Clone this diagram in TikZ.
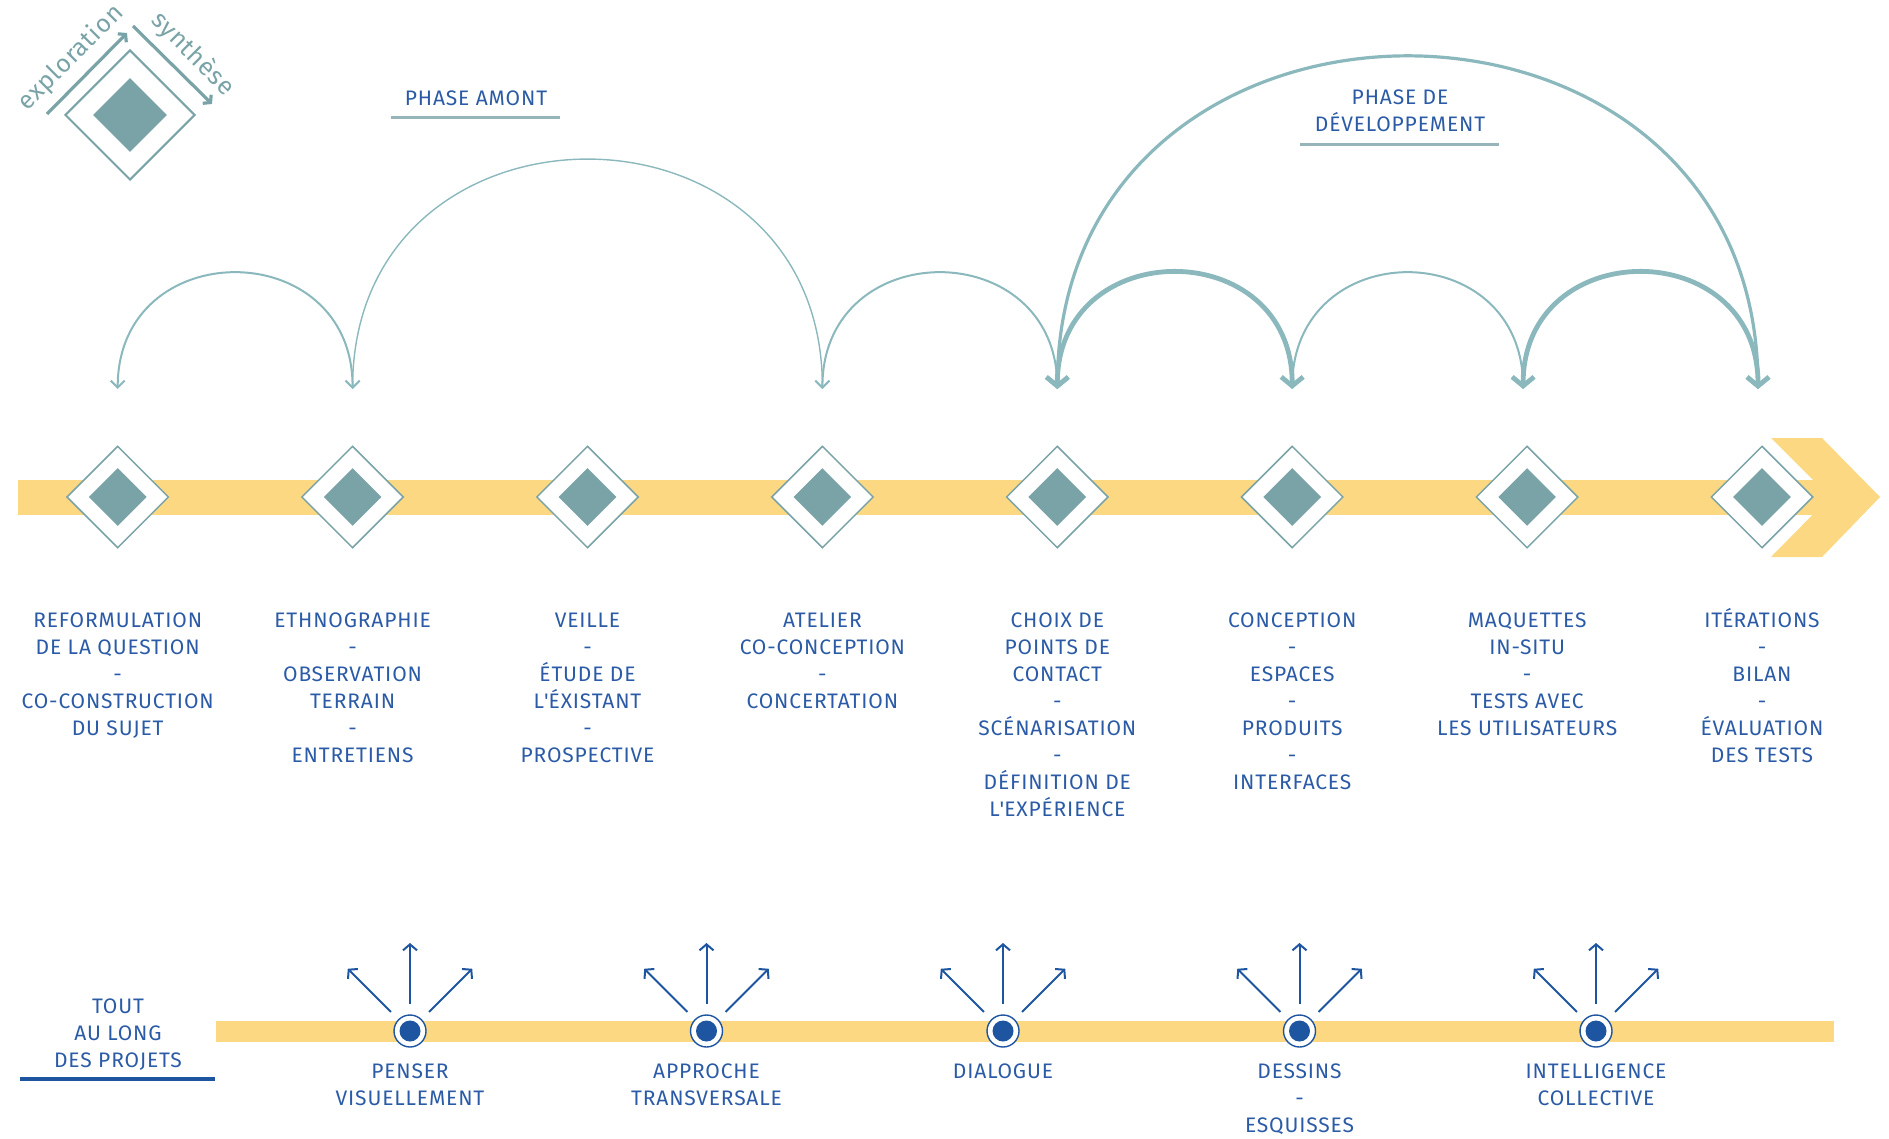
\documentclass[tikz,border=0pt]{standalone}
\usepackage{fontspec}
\setmainfont{Fira Sans}[LetterSpace=4]
\newfontfamily\legendfont{Fira Sans}[LetterSpace=3]
\usepackage{tikz}
\usetikzlibrary{arrows.meta,shapes.geometric,calc}

\definecolor{barjaune}{HTML}{FCD882}
\definecolor{sarcelle}{HTML}{7AA3A7}
\definecolor{arcteal}{HTML}{8AB8BC}
\definecolor{texteb}{HTML}{2B5BA6}
\definecolor{pucebleu}{HTML}{1E55A0}

\tikzset{
  etape/.style={diamond,aspect=1,draw=sarcelle,line width=0.75pt,fill=white,minimum size=51pt,inner sep=0pt},
  noyau/.style={diamond,aspect=1,fill=sarcelle,minimum size=29pt,inner sep=0pt},
  etiquette/.style={anchor=north,align=center,inner sep=0pt,text=texteb,
    font=\fontsize{10.5}{13.5}\selectfont},
  fin/.style={draw=arcteal,line width=1pt,{Straight Barb[length=3.5pt,width=7pt]}-{Straight Barb[length=3.5pt,width=7pt]}},
  epais/.style={draw=arcteal,line width=2.4pt,{Straight Barb[length=4.5pt,width=11pt]}-{Straight Barb[length=4.5pt,width=11pt]}},
  puce/.style={circle,draw=pucebleu,line width=0.7pt,fill=white,minimum size=16pt,inner sep=0pt},
  noyaupuce/.style={circle,fill=pucebleu,minimum size=10.5pt,inner sep=0pt},
  rayon/.style={draw=pucebleu,line width=1pt,-{Straight Barb[length=3pt,width=7pt]}},
  flecheleg/.style={draw=sarcelle,line width=1.6pt,-{Straight Barb[length=2.5pt,width=6pt]}},
  texteleg/.style={text=sarcelle,inner sep=0pt,font=\legendfont\fontsize{12.5}{14}\selectfont},
}

\begin{document}
\begin{tikzpicture}[x=0.5pt,y=0.5pt]
\useasboundingbox (0,0) rectangle (1889,-1139);

% legende
\node[diamond,aspect=1,draw=sarcelle,line width=1pt,minimum size=65pt,inner sep=0pt] (leg) at (130,-115) {};
\node[diamond,aspect=1,fill=sarcelle,minimum size=37pt,inner sep=0pt] at (leg) {};
\coordinate (e1) at (47,-114);
\coordinate (e2) at (127,-33);
\coordinate (s1) at (133,-26);
\coordinate (s2) at (212,-104);
\draw[flecheleg] (e1) -- (e2);
\draw[flecheleg] (s1) -- (s2);
\node[texteleg,rotate=45] (explo) at (71,-58) {exploration};
\node[texteleg,rotate=-45] (synth) at (193,-54) {synthèse};

% barre principale
\fill[barjaune] (18,-480) rectangle (1830,-515);
\fill[barjaune] (1771,-438) -- (1822,-438) -- (1880,-497) -- (1822,-557) -- (1771,-557) -- (1830,-497) -- cycle;

\foreach \i in {1,...,8} {
  \node[etape] (d\i) at ({117.7+234.9*(\i-1)},-497) {};
  \node[noyau] at (d\i) {};
}
\foreach \i in {1,...,6}
  \coordinate (t\i) at ($(d\i)+(0,108)$);
\coordinate (t7) at ($(d7)+(-4,108)$);
\coordinate (t8) at ($(d8)+(-4,108)$);

% arcs
\draw[fin] (t1) .. controls +(0,155) and +(0,155) .. (t2);
\draw[fin,line width=0.7pt] (t2) .. controls +(0,306) and +(0,306) .. (t4);
\draw[fin] (t4) .. controls +(0,155) and +(0,155) .. (t5);
\draw[fin] (t6) .. controls +(0,155) and +(0,155) .. (t7);
\draw[epais,line width=1.6pt] (t5) .. controls +(0,443) and +(0,443) .. (t8);
\draw[epais] (t5) .. controls +(0,155) and +(0,155) .. (t6);
\draw[epais] (t7) .. controls +(0,155) and +(0,155) .. (t8);

% phases
\node[etiquette] (amont) at (476,-90) {PHASE AMONT};
\draw[sarcelle!80!white,line width=1.5pt] (391,-118) -- (560,-118);
\node[etiquette] (dev) at (1400,-89) {PHASE DE\\DÉVELOPPEMENT};
\draw[sarcelle!80!white,line width=1.5pt] (1300,-145) -- (1499,-145);

% etapes
\node[etiquette] (l1) at ($(d1)+(0,-115.5)$) {REFORMULATION\\DE LA QUESTION\\-\\CO-CONSTRUCTION\\DU SUJET};
\node[etiquette] (l2) at ($(d2)+(0,-115.5)$) {ETHNOGRAPHIE\\-\\OBSERVATION\\TERRAIN\\-\\ENTRETIENS};
\node[etiquette] (l3) at ($(d3)+(0,-115.5)$) {VEILLE\\-\\ÉTUDE DE\\L\textquotesingle ÉXISTANT\\-\\PROSPECTIVE};
\node[etiquette] (l4) at ($(d4)+(0,-115.5)$) {ATELIER\\CO-CONCEPTION\\-\\CONCERTATION};
\node[etiquette] (l5) at ($(d5)+(0,-115.5)$) {CHOIX DE\\POINTS DE\\CONTACT\\-\\SCÉNARISATION\\-\\DÉFINITION DE\\L\textquotesingle EXPÉRIENCE};
\node[etiquette] (l6) at ($(d6)+(0,-115.5)$) {CONCEPTION\\-\\ESPACES\\-\\PRODUITS\\-\\INTERFACES};
\node[etiquette] (l7) at ($(d7)+(0,-115.5)$) {MAQUETTES\\IN-SITU\\-\\TESTS AVEC\\LES UTILISATEURS};
\node[etiquette] (l8) at ($(d8)+(0,-115.5)$) {IT\smash{É}RATIONS\\-\\BILAN\\-\\ÉVALUATION\\DES TESTS};

% tout au long des projets
\node[etiquette] (tout) at (118,-998) {TOUT\\AU LONG\\DES PROJETS};
\draw[pucebleu,line width=1.6pt] (20,-1079) -- (215,-1079);
\fill[barjaune] (216,-1021) rectangle (1834,-1042);

\foreach \i in {1,...,5} {
  \node[puce] (b\i) at ({410+296.5*(\i-1)},-1031) {};
  \node[noyaupuce] at (b\i) {};
  \foreach \a in {45,90,135}
    \draw[rayon] (b\i) ++(\a:27) -- ++(\a:61);
}

\node[etiquette] (p1) at ($(b1)+(0,-32)$) {PENSER\\VISUELLEMENT};
\node[etiquette] (p2) at ($(b2)+(0,-32)$) {APPROCHE\\TRANSVERSALE};
\node[etiquette] (p3) at ($(b3)+(0,-32)$) {DIALOGUE};
\node[etiquette] (p4) at ($(b4)+(0,-32)$) {DESSINS\\-\\ESQUISSES};
\node[etiquette] (p5) at ($(b5)+(0,-32)$) {INTELLIGENCE\\COLLECTIVE};
\end{tikzpicture}
\end{document}
